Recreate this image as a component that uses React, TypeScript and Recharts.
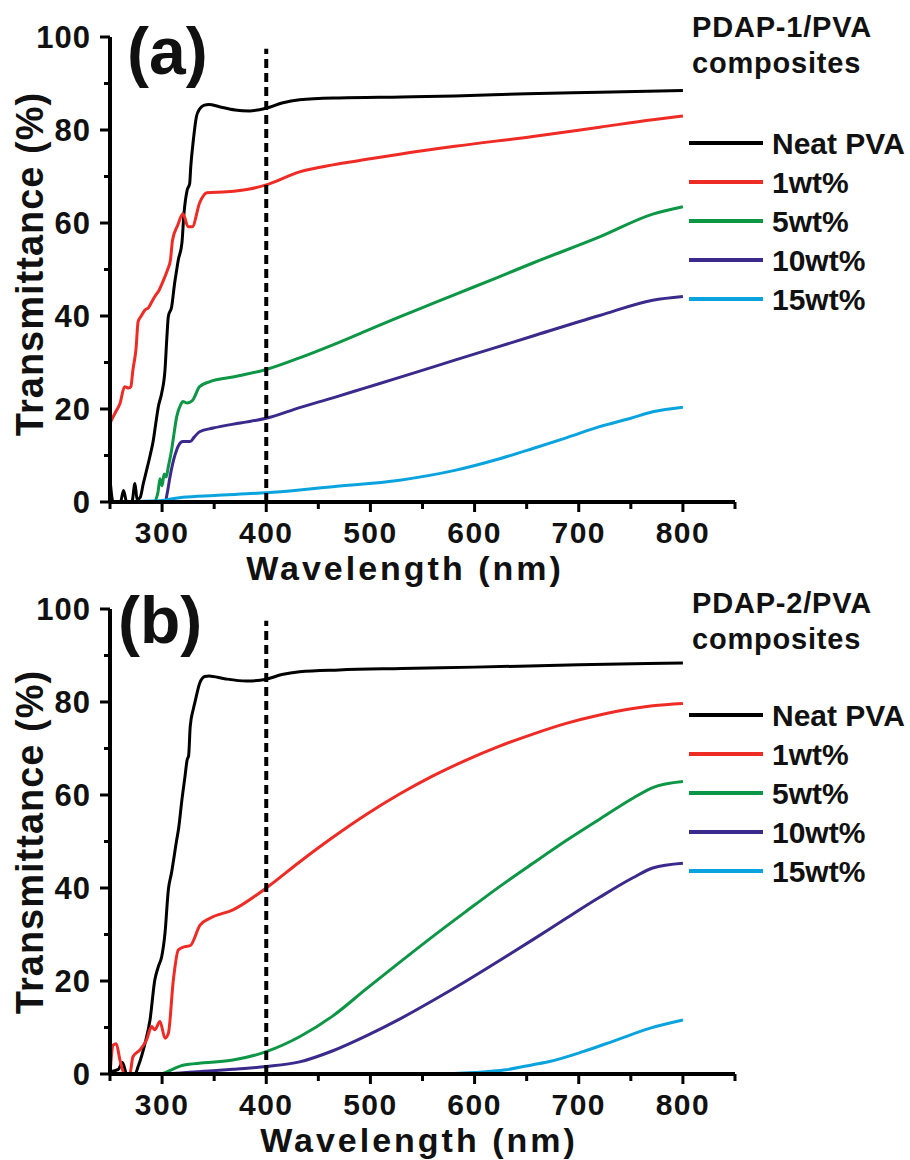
import { LineChart, Line, XAxis, YAxis, ReferenceLine } from "recharts";

type Pt = [number, number];

// (a) PDAP-1/PVA composites, [wavelength nm, transmittance %]
const aNeatPva: Pt[] = [
  [250, 5], [253, 0], [260, 0], [263, 2.5], [266, 0], [271, 0], [274, 4], [276, 0.5],
  [279, 1], [282, 4], [285.2, 6.9], [288.5, 10], [291.6, 13.3], [294, 17], [296.4, 20.5],
  [299.6, 23.4], [302.8, 28.4], [304.5, 35], [306, 39.9], [309.2, 42], [312, 47], [314, 49.9],
  [315.5, 52], [319, 55.6], [321, 62], [324, 67], [326.5, 68.5], [327.5, 72], [330, 77.8],
  [333, 82.9], [336, 84.5], [340, 85.3], [345, 85.5], [355, 85], [370, 84.3], [384, 84.1],
  [400, 84.7], [415, 85.8], [432, 86.5], [470, 86.9], [530, 87.1], [581, 87.3], [650, 87.8],
  [720, 88.1], [800, 88.5],
];
const aOneWt: Pt[] = [
  [250, 17], [255, 19.2], [259.6, 21.2], [264, 24.8], [268, 24.5], [270, 24.8], [272, 28.4],
  [275, 33], [277, 38.8], [280, 40], [283.6, 41.3], [287, 41.8], [290, 43], [293, 44.2],
  [297, 45.5], [301, 47.5], [305, 49.8], [308, 52], [310, 56.3], [315, 59.5], [320, 62],
  [325, 59.2], [329, 59.2], [336, 64.3], [343, 66.5], [362, 66.7], [384, 67.3], [400, 68.2],
  [432, 71], [464, 72.5], [500, 73.8], [528, 74.8], [581, 76.5], [656, 78.6], [720, 80.6],
  [771, 82.2], [800, 83],
];
const aFiveWt: Pt[] = [
  [250, 0], [292, 0], [296, 2], [298, 5], [300, 3.5], [302, 6], [304, 5.4], [306, 7.6],
  [309, 11], [311, 14], [314, 18.3], [318, 21], [320, 21.6], [324, 21.3], [329, 21.8],
  [336, 24.8], [346, 25.9], [368, 26.9], [400, 28.5], [432, 31], [464, 33.8], [496, 36.8],
  [528, 39.8], [560, 42.7], [581, 44.6], [620, 48.1], [656, 51.4], [720, 57], [771, 61.9],
  [800, 63.5],
];
const aTenWt: Pt[] = [
  [250, 0], [303, 0], [305, 2], [307.6, 5.4], [311, 9], [314, 11.2], [318, 12.8], [320, 13],
  [327, 13], [331, 14], [336, 15.1], [349, 15.9], [375, 17], [400, 18], [432, 20.3], [464, 22.4],
  [496, 24.6], [528, 26.8], [581, 30.5], [620, 33.2], [656, 35.7], [720, 40.1], [771, 43.4],
  [800, 44.2],
];
const aFifteenWt: Pt[] = [
  [250, 0], [290, 0.2], [300, 0.3], [310, 0.7], [320, 1], [350, 1.4], [400, 2], [432, 2.6],
  [464, 3.3], [528, 4.7], [581, 6.8], [624, 9.3], [656, 11.5], [688, 13.8], [720, 16.2],
  [750, 18], [771, 19.4], [800, 20.4],
];

// (b) PDAP-2/PVA composites
const bNeatPva: Pt[] = [
  [250, 0.5], [258, 1], [262, 2.5], [266, 0], [274, 0], [277, 1.6], [283.6, 6.6], [288.4, 11.6],
  [293, 20.2], [296.4, 23.1], [299.6, 25.2], [302.8, 30.3], [306, 39.6], [309, 43.2], [314, 50.3],
  [316, 53], [319, 58.9], [322, 64], [324, 67.5], [325.5, 68.5], [327, 74.7], [330, 78.5],
  [332, 80.4], [336, 84], [341, 85.5], [345, 85.6], [360, 85], [381, 84.5], [400, 84.9],
  [415, 85.9], [432, 86.5], [470, 86.9], [530, 87.2], [600, 87.5], [700, 88], [800, 88.4],
];
const bOneWt: Pt[] = [
  [250, 0], [253, 6.2], [256, 6.5], [259.6, 3], [264, 0], [269, 0], [272, 3.7], [278.8, 5.2],
  [285, 7.3], [290, 10.2], [293, 9.5], [298, 11.3], [302.8, 7.7], [306, 8.7], [310.8, 20.2],
  [315.6, 26.7], [322, 27.4], [327, 27.6], [336.4, 32], [346, 33.5], [368, 35.3], [400, 40],
  [432, 45.6], [464, 50.9], [496, 55.8], [528, 60.2], [560, 64.1], [592, 67.5], [624, 70.5],
  [656, 73.1], [688, 75.4], [720, 77.2], [752, 78.6], [771, 79.2], [800, 79.7],
];
const bFiveWt: Pt[] = [
  [250, 0], [298, 0], [310, 1], [320, 1.9], [340, 2.4], [368, 3], [400, 4.8], [432, 8],
  [464, 12.5], [496, 18.3], [528, 24], [560, 29.6], [592, 35], [624, 40.3], [656, 45.3],
  [688, 50.2], [720, 54.8], [752, 59.3], [771, 61.6], [800, 62.9],
];
const bTenWt: Pt[] = [
  [250, 0], [298, 0], [340, 0.6], [368, 1], [400, 1.6], [432, 2.6], [464, 5], [496, 8.2],
  [528, 11.8], [560, 15.8], [592, 20], [624, 24.4], [656, 28.9], [688, 33.5], [720, 38],
  [752, 42.2], [771, 44.3], [800, 45.3],
];
const bFifteenWt: Pt[] = [
  [250, 0], [560, 0], [600, 0.3], [630, 0.9], [656, 2], [672, 2.7], [704, 4.8], [736, 7.3],
  [768, 9.8], [800, 11.6],
];

const seriesNames = ["Neat PVA", "1wt%", "5wt%", "10wt%", "15wt%"];
const seriesColors = ["#000000", "#ee2b24", "#0c9645", "#3b2a8c", "#0aa3de"];
const xTicks = [250, 300, 350, 400, 450, 500, 550, 600, 650, 700, 750, 800, 850];
const yTicks = [0, 10, 20, 30, 40, 50, 60, 70, 80, 90, 100];

const FONT = "'Liberation Sans', Arial, Helvetica, sans-serif";
const INK = "#111";

const toRows = (pts: Pt[]) => pts.map(([nm, t]) => ({ nm, t }));

const XTick = (props: any) => {
  const { x, y, payload } = props;
  const major = payload.value % 100 === 0;
  return (
    <g>
      <line x1={x} x2={x} y1={y} y2={y + (major ? 10 : 7)} stroke="#000" strokeWidth={3} />
      {major && (
        <text x={x} y={y + 41} textAnchor="middle" fontFamily={FONT} fontWeight={700}
          fontSize={30} letterSpacing={1.5} fill={INK}>
          {payload.value}
        </text>
      )}
    </g>
  );
};

const YTick = (props: any) => {
  const { x, y, payload } = props;
  const major = payload.value % 20 === 0;
  return (
    <g>
      <line x1={x} x2={x - (major ? 10 : 6)} y1={y} y2={y} stroke="#000" strokeWidth={3} />
      {major && (
        <text x={x - 19} y={y + 11} textAnchor="end" fontFamily={FONT} fontWeight={700}
          fontSize={31} letterSpacing={1} fill={INK}>
          {payload.value}
        </text>
      )}
    </g>
  );
};

type PanelProps = {
  top: number;
  tag: string;
  tagX: number;
  tagY: number;
  title: string;
  titleY: number;
  xTitleX: number;
  xTitleY: number;
  yTitleY: number;
  series: Pt[][];
};

const Panel = ({ top, tag, tagX, tagY, title, titleY, xTitleX, xTitleY, yTitleY, series }: PanelProps) => (
  <div style={{ position: "absolute", left: 0, top, width: 910, height: 588 }}>
    <LineChart width={910} height={588} margin={{ top: 37, right: 175, bottom: 56, left: 50 }}>
      <XAxis type="number" dataKey="nm" domain={[250, 850]} ticks={xTicks} interval={0}
        allowDataOverflow tickSize={0} tickMargin={0} tickLine={false} height={30}
        axisLine={{ stroke: "#000", strokeWidth: 4 }} tick={(p: any) => <XTick {...p} />} />
      <YAxis type="number" domain={[0, 100]} ticks={yTicks} interval={0} allowDataOverflow
        tickSize={0} tickMargin={0} tickLine={false} width={60}
        axisLine={{ stroke: "#000", strokeWidth: 4 }} tick={(p: any) => <YTick {...p} />} />
      {series.map((pts, i) => (
        <Line key={seriesNames[i]} data={toRows(pts)} dataKey="t" type="monotone"
          stroke={seriesColors[i]} strokeWidth={3} dot={false} activeDot={false}
          isAnimationActive={false} />
      ))}
      <ReferenceLine segment={[{ x: 400, y: 0 }, { x: 400, y: 97.5 }]} stroke="#000"
        strokeWidth={4} strokeDasharray="9 5" />
    </LineChart>
    <svg width={910} height={588} style={{ position: "absolute", left: 0, top: 0, pointerEvents: "none" }}>
      <g fontFamily={FONT} fontWeight={700} fill={INK}>
        <text x={tagX} y={tagY} fontSize={66}>{tag}</text>
        <text x={692} y={titleY} fontSize={29} letterSpacing={0.8}>{title}</text>
        <text x={692} y={titleY + 36} fontSize={29} letterSpacing={0.8}>composites</text>
        <text x={xTitleX} y={xTitleY} fontSize={34} letterSpacing={3} textAnchor="middle">
          Wavelength (nm)
        </text>
        <text transform={`translate(43, ${yTitleY}) rotate(-90)`} fontSize={38}
          letterSpacing={1} textAnchor="middle">
          Transmittance (%)
        </text>
        {seriesNames.map((name, i) => (
          <g key={name}>
            <line x1={689} x2={763} y1={143 + i * 39} y2={143 + i * 39}
              stroke={seriesColors[i]} strokeWidth={4} />
            <text x={772} y={143 + i * 39 + 11} fontSize={30}>{name}</text>
          </g>
        ))}
      </g>
    </svg>
  </div>
);

export default function App() {
  return (
    <div style={{ position: "absolute", left: 0, top: 0, width: 910, height: 1160, background: "#fff" }}>
      <Panel top={0} tag="(a)" tagX={127} tagY={74} title="PDAP-1/PVA" titleY={37}
        xTitleX={405} xTitleY={580} yTitleY={264}
        series={[aNeatPva, aOneWt, aFiveWt, aTenWt, aFifteenWt]} />
      <Panel top={572} tag="(b)" tagX={118} tagY={71} title="PDAP-2/PVA" titleY={41}
        xTitleX={419} xTitleY={580} yTitleY={270}
        series={[bNeatPva, bOneWt, bFiveWt, bTenWt, bFifteenWt]} />
    </div>
  );
}
